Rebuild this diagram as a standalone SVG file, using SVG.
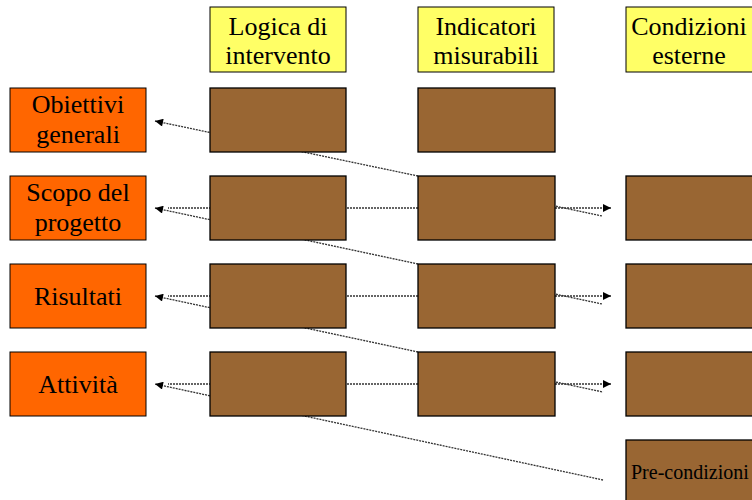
<svg xmlns="http://www.w3.org/2000/svg" width="752" height="500" viewBox="0 0 752 500">
<defs>
<marker id="ah" viewBox="0 0 10 10" refX="10" refY="5" markerWidth="9" markerHeight="8" markerUnits="userSpaceOnUse" orient="auto">
<path d="M0,0 L10,5 L0,10 z" fill="#000"/>
</marker>
</defs>
<style>
.hdr{fill:#FFFF66;stroke:#000;stroke-width:1}
.lvl{fill:#FF6600;stroke:#000;stroke-width:1}
.cell{fill:#996633;stroke:#000;stroke-width:1.3}
text{font-family:"Liberation Serif","Times New Roman",serif;fill:#000;text-anchor:middle;font-size:26px}
.c{fill:none;stroke:#333;stroke-width:1.3;stroke-dasharray:2 1}
</style>
<rect width="752" height="500" fill="#fff"/>
<g id="connectors">
<line class="c" x1="418" y1="176" x2="155" y2="121" marker-end="url(#ah)"/>
<line class="c" x1="418" y1="264" x2="155" y2="208" marker-end="url(#ah)"/>
<line class="c" x1="418" y1="352" x2="155" y2="296" marker-end="url(#ah)"/>
<line class="c" x1="603" y1="480" x2="155" y2="384" marker-end="url(#ah)"/>
<line class="c" x1="418" y1="208" x2="168" y2="208"/>
<line class="c" x1="418" y1="296" x2="168" y2="296"/>
<line class="c" x1="418" y1="384" x2="168" y2="384"/>
<line class="c" x1="540" y1="208" x2="611" y2="208" marker-end="url(#ah)"/>
<line class="c" x1="540" y1="296" x2="611" y2="296" marker-end="url(#ah)"/>
<line class="c" x1="540" y1="384" x2="611" y2="384" marker-end="url(#ah)"/>
<line class="c" x1="418" y1="177" x2="602" y2="216"/>
<line class="c" x1="418" y1="265" x2="602" y2="304"/>
<line class="c" x1="418" y1="353" x2="603" y2="392"/>
</g>
<g id="h-logica"><rect class="hdr" x="210" y="7" width="136" height="65"/><text x="278" y="35">Logica di</text><text x="278" y="64">intervento</text></g>
<g id="h-indicatori"><rect class="hdr" x="418" y="7" width="136" height="65"/><text x="486" y="35">Indicatori</text><text x="486" y="64">misurabili</text></g>
<g id="h-condizioni"><rect class="hdr" x="626" y="7" width="136" height="65"/><text x="689" y="35">Condizioni</text><text x="689" y="64">esterne</text></g>
<g id="l-obiettivi"><rect class="lvl" x="10" y="88" width="136" height="64"/><text x="78" y="113">Obiettivi</text><text x="78" y="143">generali</text></g>
<g id="l-scopo"><rect class="lvl" x="10" y="176" width="136" height="64"/><text x="78" y="201">Scopo del</text><text x="78" y="231">progetto</text></g>
<g id="l-risultati"><rect class="lvl" x="10" y="264" width="136" height="64"/><text x="78" y="305">Risultati</text></g>
<g id="l-attivita"><rect class="lvl" x="10" y="352" width="136" height="64"/><text x="78" y="393">Attività</text></g>
<g id="c1r1"><rect class="cell" x="210" y="88" width="136" height="64"/></g>
<g id="c1r2"><rect class="cell" x="210" y="176" width="136" height="64"/></g>
<g id="c1r3"><rect class="cell" x="210" y="264" width="136" height="64"/></g>
<g id="c1r4"><rect class="cell" x="210" y="352" width="136" height="64"/></g>
<g id="c2r1"><rect class="cell" x="418" y="88" width="137" height="64"/></g>
<g id="c2r2"><rect class="cell" x="418" y="176" width="137" height="64"/></g>
<g id="c2r3"><rect class="cell" x="418" y="264" width="137" height="64"/></g>
<g id="c2r4"><rect class="cell" x="418" y="352" width="137" height="64"/></g>
<g id="c3r2"><rect class="cell" x="626" y="176" width="136" height="64"/></g>
<g id="c3r3"><rect class="cell" x="626" y="264" width="136" height="64"/></g>
<g id="c3r4"><rect class="cell" x="626" y="352" width="136" height="64"/></g>
<g id="precondizioni"><rect class="cell" x="626" y="440" width="136" height="70"/><text x="631" y="479" style="text-anchor:start;font-size:20px">Pre-condizioni</text></g>
</svg>
